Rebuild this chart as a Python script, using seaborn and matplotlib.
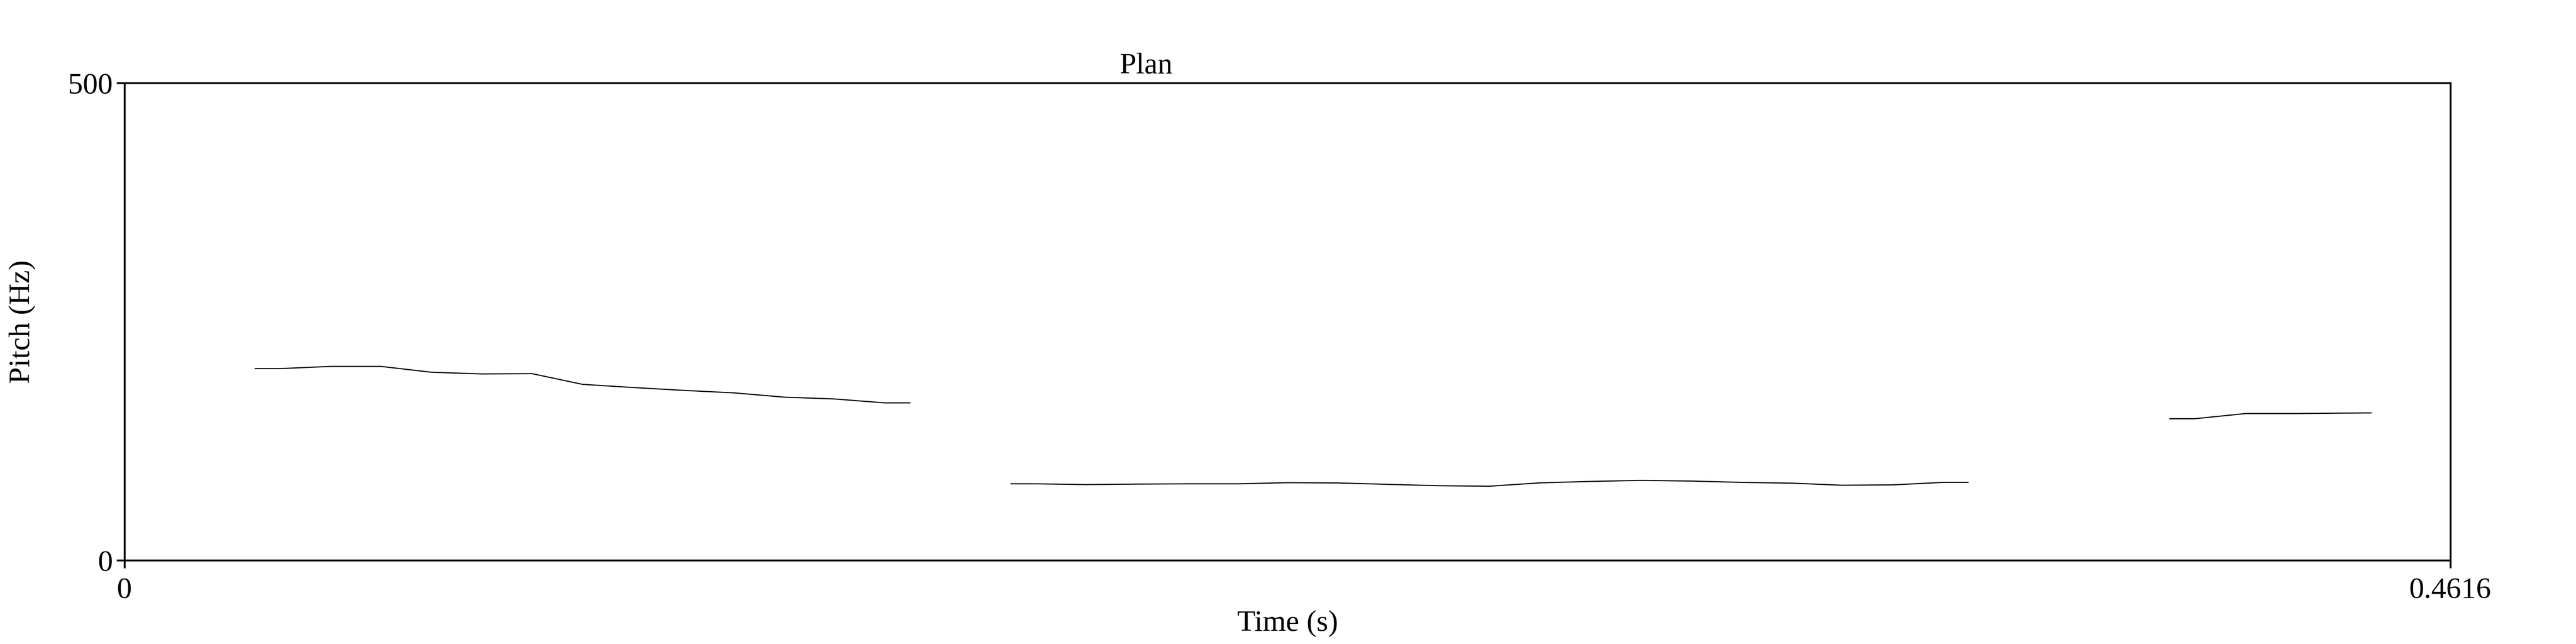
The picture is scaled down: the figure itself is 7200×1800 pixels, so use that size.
import matplotlib
matplotlib.use("Agg")
import matplotlib.pyplot as plt
import seaborn as sns

# ---- data ----
seg1_time = [0.0259, 0.0309, 0.0409, 0.0509, 0.0609, 0.0709, 0.0809, 0.0909,
             0.1009, 0.1109, 0.1209, 0.1309, 0.1409, 0.1509, 0.1559]
seg1_pitch = [200.8, 200.8, 203.1, 203.1, 197.0, 195.2, 195.5, 184.3,
              181.0, 178.0, 175.4, 170.9, 169.0, 164.9, 164.9]

seg2_time = [0.1759, 0.1809, 0.1909, 0.2009, 0.2109, 0.2209, 0.2309, 0.2409,
             0.2509, 0.2609, 0.2709, 0.2809, 0.2909, 0.3009, 0.3109, 0.3209,
             0.3309, 0.3409, 0.3509, 0.3609, 0.3659]
seg2_pitch = [80.1, 80.1, 79.3, 79.8, 80.1, 80.1, 81.3, 81.0,
              79.5, 78.1, 77.6, 81.1, 82.6, 83.7, 83.0, 81.6,
              80.8, 78.6, 79.0, 81.6, 81.6]

seg3_time = [0.4059, 0.4109, 0.4209, 0.4309, 0.4409, 0.4459]
seg3_pitch = [148.3, 148.3, 153.7, 153.7, 154.2, 154.4]

x_ticks = [0, 0.4616]
x_tick_labels = ["0", "0.4616"]
y_ticks = [0, 500]
y_tick_labels = ["0", "500"]
title_text = "Plan"
x_label = "Time (s)"
y_label = "Pitch (Hz)"

# ---- style ----
sns.set_style("white")
plt.rcParams["font.family"] = ["Liberation Serif", "DejaVu Serif"]
plt.rcParams["text.color"] = "black"
plt.rcParams["axes.labelcolor"] = "black"

fig = plt.figure(figsize=(24, 6), dpi=300)
ax = fig.add_axes([0.04833, 0.13, 0.90292, 0.74111])

for t, f in [(seg1_time, seg1_pitch), (seg2_time, seg2_pitch), (seg3_time, seg3_pitch)]:
    sns.lineplot(x=t, y=f, ax=ax, color="black", linewidth=0.75,
                 estimator=None, sort=False)

ax.set_xlim(0, 0.4616)
ax.set_ylim(0, 500)
ax.set_xticks(x_ticks)
ax.set_xticklabels(x_tick_labels)
ax.set_yticks(y_ticks)
ax.set_yticklabels(y_tick_labels)

for sp in ax.spines.values():
    sp.set_visible(True)
    sp.set_color("black")
    sp.set_linewidth(1.25)

ax.tick_params(bottom=True, left=True, direction="out", length=5.3, width=1.25,
               colors="black", labelsize=20)
ax.tick_params(axis="x", pad=6)
ax.tick_params(axis="y", pad=2.6)

ax.set_xlabel(x_label, fontsize=20, color="black")
ax.set_ylabel(y_label, fontsize=20, color="black")
ax.yaxis.set_label_coords(-0.0381, 0.5)
ax.xaxis.set_label_coords(0.5, -0.105)

ax.text(0.4392, 1.0202, title_text, transform=ax.transAxes, ha="center",
        va="baseline", fontsize=20, color="black")

fig.savefig("out.png", dpi=300)
